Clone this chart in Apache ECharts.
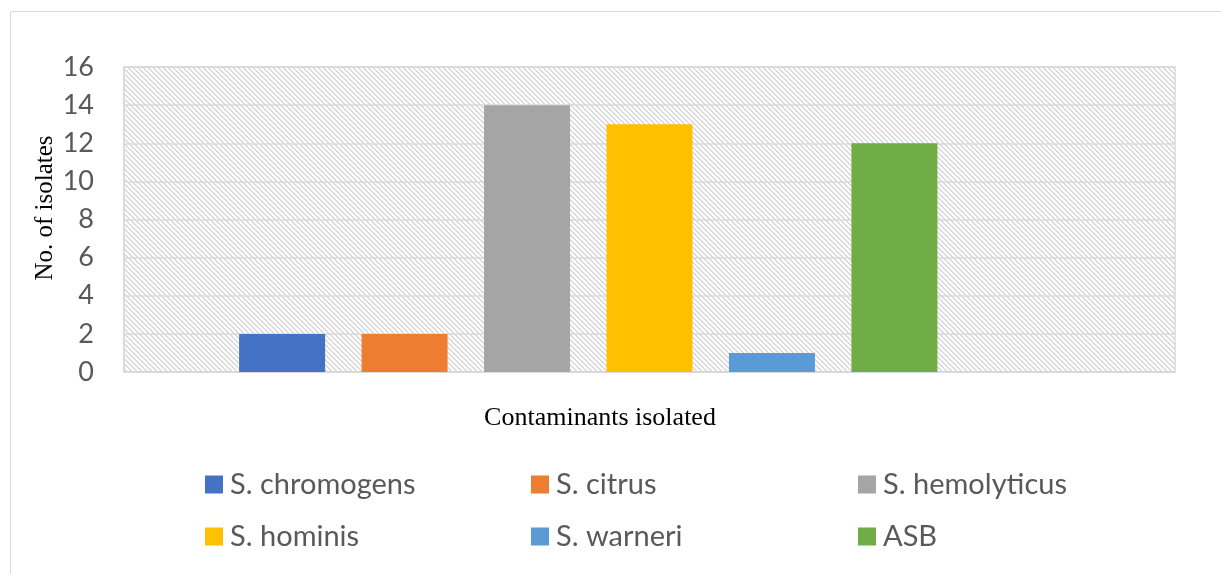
<!DOCTYPE html>
<html>
<head>
<meta charset="utf-8">
<script src="https://cdn.jsdelivr.net/npm/echarts@6/dist/echarts.min.js"></script>
<style>
html,body{margin:0;padding:0;background:#fff;}
#chart{width:1221px;height:574px;}
</style>
</head>
<body>
<div id="chart"></div>
<script>
var seriesNames = ['S. chromogens', 'S. citrus', 'S. hemolyticus', 'S. hominis', 'S. warneri', 'ASB', ''];
var seriesValues = [2, 2, 14, 13, 1, 12, null];
var seriesColors = ['#4472C4', '#ED7D31', '#A5A5A5', '#FFC000', '#5B9BD5', '#70AD47', '#264478'];
var categories = ['Contaminants isolated'];
var yTicks = [0, 2, 4, 6, 8, 10, 12, 14, 16];

var tile = document.createElement('canvas');
tile.width = 5; tile.height = 5;
var tc = tile.getContext('2d');
tc.fillStyle = '#ffffff';
tc.fillRect(0, 0, 5, 5);
tc.fillStyle = '#d9d9d9';
for (var i = 0; i < 5; i++) {
  tc.fillRect(i, i, 1, 1);
  tc.fillRect((i + 1) % 5, i, 1, 1);
}

var chart = echarts.init(document.getElementById('chart'), null, {renderer: 'canvas'});

var series = seriesNames.map(function (n, k) {
  return {
    name: n || 'empty',
    type: 'bar',
    data: [seriesValues[k]],
    barWidth: 86,
    barGap: '42.4%',
    itemStyle: {color: seriesColors[k]},
    silent: true
  };
});

var legendLefts = [205, 531, 858, 205, 531, 858];
var legendTops = [470, 470, 470, 522, 522, 522];
var legends = seriesNames.slice(0, 6).map(function (n, k) {
  return {
    data: [n],
    left: legendLefts[k],
    top: legendTops[k],
    itemWidth: 18,
    itemHeight: 18,
    itemGap: 0,
    padding: 0,
    icon: 'rect',
    selectedMode: false,
    textStyle: {fontFamily: 'Lato', fontSize: 29, color: '#595959', lineHeight: 18, padding: [0, 0, 0, 2]}
  };
});

chart.setOption({
  animation: false,
  backgroundColor: '#ffffff',
  grid: {
    left: 124, top: 67, width: 1051, height: 305,
    show: true,
    backgroundColor: {image: tile, repeat: 'repeat'},
    borderColor: '#d9d9d9',
    borderWidth: 1.5
  },
  legend: legends,
  xAxis: {
    type: 'category',
    data: categories,
    axisLine: {show: true, lineStyle: {color: '#d9d9d9', width: 1.5}},
    axisTick: {show: false},
    axisLabel: {show: false}
  },
  yAxis: {
    type: 'value',
    min: yTicks[0],
    max: yTicks[yTicks.length - 1],
    interval: 2,
    axisLine: {show: true, lineStyle: {color: '#d9d9d9', width: 1.5}},
    axisTick: {show: false},
    splitLine: {lineStyle: {color: '#d9d9d9', width: 1.5}},
    axisLabel: {fontFamily: 'Lato', fontSize: 27, color: '#595959', margin: 30}
  },
  series: series,
  graphic: [
    {type: 'rect', left: 8, top: 9, silent: true, z: -10,
     shape: {x: 8.5, y: 9.5, width: 1230, height: 600},
     style: {fill: 'none', stroke: '#d9d9d9', lineWidth: 1}},
    {type: 'text', x: 45, y: 208, rotation: Math.PI / 2, silent: true,
     style: {text: 'No. of isolates', font: '25px "Liberation Serif"', fill: '#000000', textAlign: 'center', textVerticalAlign: 'middle'}},
    {type: 'text', x: 600, y: 418, silent: true,
     style: {text: 'Contaminants isolated', font: '26px "Liberation Serif"', fill: '#000000', textAlign: 'center', textVerticalAlign: 'middle'}}
  ]
});
</script>
</body>
</html>
